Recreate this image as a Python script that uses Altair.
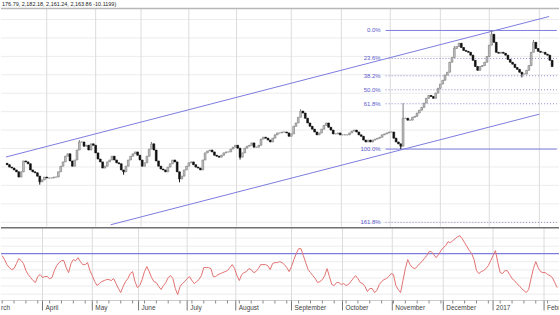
import altair as alt
import pandas as pd

# ---------------- data ----------------
header = "176.79, 2,182.18, 2,161.24, 2,163.86 -10.1199)"

close = [
    1957, 1952, 1950, 1946, 1942, 1931, 1942, 1965, 1963, 1959,
    1946, 1942, 1940, 1933, 1921, 1925, 1931, 1929, 1929, 1929,
    1931, 1931, 1942, 1954, 1963, 1975, 1980, 1965, 1954, 1967,
    1988, 2005, 2005, 1996, 1998, 1988, 2001, 1998, 1982, 1969,
    1963, 1950, 1954, 1963, 1967, 1975, 1967, 1961, 1959, 1946,
    1942, 1954, 1967, 1975, 1980, 1984, 1977, 1967, 1954, 1961,
    1975, 1990, 2001, 1988, 1965, 1954, 1948, 1946, 1942, 1952,
    1959, 1967, 1963, 1942, 1927, 1933, 1946, 1954, 1961, 1963,
    1957, 1952, 1950, 1946, 1967, 1982, 1986, 1988, 1984, 1977,
    1975, 1973, 1977, 1982, 1984, 1984, 1990, 1994, 1998, 1992,
    1973, 1982, 1992, 1996, 1998, 2003, 1994, 1994, 1998, 2011,
    2015, 2013, 2009, 2005, 2013, 2020, 2024, 2024, 2026, 2026,
    2024, 2017, 2022, 2038, 2045, 2057, 2070, 2066, 2055, 2045,
    2038, 2032, 2026, 2020, 2024, 2032, 2040, 2045, 2036, 2030,
    2022, 2022, 2024, 2020, 2020, 2020, 2020, 2024, 2028, 2030,
    2026, 2020, 2017, 2009, 2005, 2009, 2005, 2009, 2011, 2013,
    2015, 2020, 2022, 2024, 2026, 2026, 2013, 2005, 2001, 1996,
    2055, 2055, 2051, 2051, 2057, 2059, 2066, 2072, 2078, 2087,
    2097, 2103, 2101, 2097, 2108, 2118, 2127, 2135, 2146, 2152,
    2173, 2183, 2202, 2206, 2213, 2204, 2198, 2196, 2194, 2188,
    2177, 2164, 2156, 2164, 2166, 2173, 2185, 2209, 2232, 2215,
    2194, 2192, 2194, 2192, 2188, 2179, 2173, 2169, 2162, 2158,
    2152, 2148, 2148, 2156, 2166, 2194, 2215, 2202, 2196, 2194,
    2194, 2190, 2188, 2177, 2163.86,
]
first_open = 1960

# a few visible wicks (bar index -> extreme)
wick_high = {126: 2074, 170: 2087, 192: 2207, 208: 2240, 226: 2220, 31: 2009, 62: 2005}
wick_low = {14: 1915, 50: 1936, 74: 1920, 169: 1990, 221: 2141, 100: 1968}

rsi = [
    68.4, 65.2, 61.2, 58.8, 57.2, 58.0, 62.0, 66.0, 64.4, 62.0,
    56.4, 53.2, 50.8, 48.4, 46.8, 51.6, 53.2, 50.8, 51.6, 51.6,
    50.0, 50.8, 56.4, 60.4, 62.8, 64.4, 64.4, 58.8, 54.8, 62.0,
    65.2, 64.4, 66.8, 63.6, 61.2, 61.2, 62.8, 56.4, 52.4, 47.6,
    44.4, 46.0, 47.6, 48.4, 49.2, 49.2, 48.4, 50.0, 46.0, 42.0,
    38.8, 43.6, 47.6, 50.0, 54.0, 55.6, 47.6, 42.8, 44.4, 49.2,
    55.6, 59.6, 55.6, 50.8, 47.6, 46.8, 43.6, 41.2, 44.4, 46.8,
    50.8, 52.4, 50.0, 42.0, 37.2, 43.6, 46.0, 47.6, 50.0, 51.6,
    48.4, 46.0, 47.6, 49.2, 52.4, 58.8, 58.8, 58.8, 58.0, 51.6,
    51.6, 53.2, 54.0, 54.8, 55.6, 56.4, 58.8, 61.2, 58.0, 52.4,
    48.4, 53.2, 54.8, 55.6, 58.0, 57.2, 54.8, 55.6, 58.0, 61.2,
    61.2, 61.2, 60.4, 57.2, 62.0, 62.8, 62.8, 63.6, 62.8, 61.2,
    58.8, 55.6, 59.6, 65.2, 70.0, 74.0, 74.0, 68.4, 62.8, 57.2,
    54.8, 52.4, 50.0, 46.8, 47.6, 49.2, 52.4, 58.0, 51.6, 45.2,
    44.4, 46.8, 46.8, 45.2, 46.0, 44.4, 45.2, 47.6, 50.0, 52.4,
    50.0, 46.8, 46.0, 43.6, 39.6, 42.0, 42.0, 38.8, 40.4, 45.2,
    47.6, 49.2, 50.0, 51.6, 54.0, 53.2, 44.4, 41.2, 38.8, 48.4,
    58.0, 65.2, 61.2, 58.8, 58.0, 59.6, 62.0, 63.6, 66.0, 68.4,
    71.6, 71.6, 69.2, 66.8, 69.2, 72.4, 74.8, 76.4, 79.6, 78.8,
    80.4, 82.0, 83.6, 84.4, 82.0, 78.8, 75.6, 72.4, 70.0, 65.2,
    56.4, 54.0, 55.6, 56.4, 58.0, 60.4, 64.4, 68.4, 72.4, 62.8,
    54.8, 54.0, 56.4, 56.4, 53.2, 50.0, 48.4, 46.0, 44.4, 42.0,
    40.4, 38.8, 41.2, 50.0, 58.0, 63.6, 58.8, 55.6, 54.8, 54.8,
    53.2, 52.4, 50.8, 46.8, 42.8,
]
rsi_level = 70

month_labels = ["March", "April", "May", "June", "July", "August", "September",
                "October", "November", "December", "2017", "February"]
month_pos = [-5.5, 17, 38, 57.5, 78, 98.5, 122, 143.5, 164.5, 186, 207, 228.5]

fib_pct = [0.0, 23.6, 38.2, 50.0, 61.8, 100.0, 161.8]
fib_text = ["0.0%", "23.6%", "38.2%", "50.0%", "61.8%", "100.0%", "161.8%"]
fib_high = 2240.0
fib_low = 1990.0
fib_from = 162.5
fib_to = 236.0

chan_upper_i = [-0.5, 232.7]
chan_upper_p = [1973.3, 2269.4]
chan_lower_i = [44.45, 228.5]
chan_lower_p = [1830.5, 2063.6]

price_grid = [2263.1, 2224.3, 2185.4, 2146.6, 2107.7, 2068.9, 2030.0,
              1991.2, 1952.3, 1913.5, 1874.6, 1835.8]
rsi_grid = [82.5, 76.0, 63.5, 57.0, 50.5, 44.0, 37.5]
week_ticks = list(range(0, 235, 5))

# ---------------- tables ----------------
n = len(close)
opens = [first_open] + close[:-1]
rows = []
for i in range(n):
    o, c = opens[i], close[i]
    hi = max(o, c, wick_high.get(i, max(o, c)))
    lo = min(o, c, wick_low.get(i, min(o, c)))
    rows.append({"i": i, "open": o, "close": c, "top": max(o, c), "bot": min(o, c),
                 "hi": hi, "lo": lo, "dir": "up" if c >= o else "down", "rsi": rsi[i]})
df = pd.DataFrame(rows)

months = pd.DataFrame({"pos": month_pos, "label": month_labels})
fib = pd.DataFrame({
    "pct": fib_pct, "label": fib_text,
    "price": [fib_high - (fib_high - fib_low) * p / 100 for p in fib_pct],
    "x0": fib_from, "x1": fib_to,
})
fib["solid"] = fib["pct"].isin([0.0, 100.0])
chan = pd.DataFrame({
    "i": chan_upper_i + chan_lower_i,
    "p": chan_upper_p + chan_lower_p,
    "line": ["upper", "upper", "lower", "lower"],
})
pgrid = pd.DataFrame({"p": price_grid})
rgrid = pd.DataFrame({"r": rsi_grid})
rlev = pd.DataFrame({"r": [rsi_level]})
weeks = pd.DataFrame({"w": week_ticks})

# ---------------- scales ----------------
W = 560
TOP_H = 227
BOT_PLOT = 73
BOT_H = 88
xs = alt.Scale(domain=[-0.504, 234.8], nice=False, zero=False)
ys = alt.Scale(domain=[1826.3, 2303.0], nice=False, zero=False)
rs = alt.Scale(domain=[20.4, 90.8], nice=False, zero=False)
FONT = "Liberation Sans"
BLUE = "#7c7ce0"

X = lambda f: alt.X(f, type="quantitative", scale=xs, axis=None)
Yp = lambda f: alt.Y(f, type="quantitative", scale=ys, axis=None)
Yr = lambda f: alt.Y(f, type="quantitative", scale=rs, axis=None)

# ---------------- top panel ----------------
hgrid = alt.Chart(pgrid).mark_rule(color="#ececec", strokeWidth=1, clip=True).encode(
    y=Yp("p"), x=alt.value(0), x2=alt.value(W))
vgrid_top = alt.Chart(months).mark_rule(color="#dcdcdc", strokeWidth=1, clip=True).encode(
    x=X("pos"), y=alt.value(8), y2=alt.value(TOP_H))
channel = alt.Chart(chan).mark_line(color=BLUE, strokeWidth=1, clip=True).encode(
    x=X("i"), y=Yp("p"), detail="line:N")
fib_solid = alt.Chart(fib).transform_filter("datum.solid").mark_rule(
    color=BLUE, strokeWidth=1, clip=True).encode(x=X("x0"), x2="x1", y=Yp("price"))
fib_dot = alt.Chart(fib).transform_filter("!datum.solid").mark_rule(
    color="#8a8ad0", strokeWidth=1, strokeDash=[1, 2], clip=True).encode(
    x=X("x0"), x2="x1", y=Yp("price"))
fib_lab = alt.Chart(fib).mark_text(
    align="right", baseline="middle", dx=-5, fontSize=6, font=FONT, color="#5a5acc").encode(
    x=X("x0"), y=Yp("price"), text="label:N")
fill_scale = alt.Scale(domain=["up", "down"], range=["#c4c4c4", "#111111"])
line_scale = alt.Scale(domain=["up", "down"], range=["#7a7a7a", "#111111"])
wicks = alt.Chart(df).mark_rule(strokeWidth=1, clip=True).encode(
    x=X("i"), y=Yp("lo"), y2="hi", color=alt.Color("dir:N", scale=line_scale, legend=None))
bodies = alt.Chart(df).mark_bar(size=1.8, strokeWidth=0.6, clip=True).encode(
    x=X("i"), y=Yp("bot"), y2="top",
    fill=alt.Fill("dir:N", scale=fill_scale, legend=None),
    stroke=alt.Stroke("dir:N", scale=line_scale, legend=None))
head_line = alt.Chart(rlev).mark_rule(color="#b8b8b8", strokeWidth=1.5).encode(
    x=alt.value(0), x2=alt.value(W), y=alt.value(8))
head_text = alt.Chart(pd.DataFrame({"t": [header]})).mark_text(
    align="left", baseline="middle", fontSize=5.5, font=FONT, color="#222222").encode(
    x=alt.value(1), y=alt.value(3.5), text="t:N")

top = alt.layer(hgrid, vgrid_top, channel, fib_solid, fib_dot, fib_lab, wicks, bodies,
                head_line, head_text).properties(width=W, height=TOP_H)

# ---------------- bottom panel ----------------
rg = alt.Chart(rgrid).mark_rule(color="#ececec", strokeWidth=1).encode(
    y=Yr("r"), x=alt.value(0), x2=alt.value(W))
vgrid_bot = alt.Chart(months).mark_rule(color="#dcdcdc", strokeWidth=1, clip=True).encode(
    x=X("pos"), y=alt.value(0), y2=alt.value(BOT_PLOT))
axis_line = alt.Chart(rlev).mark_rule(color="#cccccc", strokeWidth=1).encode(
    y=alt.value(BOT_PLOT), x=alt.value(0), x2=alt.value(W))
week_tick = alt.Chart(weeks).mark_rule(color="#888888", strokeWidth=1, clip=True).encode(
    x=X("w"), y=alt.value(BOT_PLOT), y2=alt.value(BOT_PLOT + 3))
month_tick = alt.Chart(months).mark_rule(color="#777777", strokeWidth=1, clip=True).encode(
    x=X("pos"), y=alt.value(BOT_PLOT), y2=alt.value(BOT_PLOT + 10))
lev = alt.Chart(rlev).mark_rule(color=BLUE, strokeWidth=1.1).encode(
    y=Yr("r"), x=alt.value(0), x2=alt.value(W))
border = alt.Chart(rlev).mark_rule(color="#707070", strokeWidth=1.5).encode(
    y=alt.value(0), x=alt.value(0), x2=alt.value(W))
rsi_line = alt.Chart(df).mark_line(color="#e27070", strokeWidth=1, clip=True).encode(
    x=X("i"), y=Yr("rsi"))
mlab = alt.Chart(months).mark_text(
    align="left", baseline="middle", dx=3, fontSize=6.5, font=FONT, color="#444444",
    clip=True).encode(x=X("pos"), y=alt.value(BOT_PLOT + 8), text="label:N")

bottom = alt.layer(rg, vgrid_bot, lev, rsi_line, border, axis_line, week_tick, month_tick,
                   mlab).properties(width=W, height=BOT_H)

chart = alt.vconcat(top, bottom, spacing=0).properties(
    padding=0, background="white"
).configure_view(stroke=None)

chart.save("out.html", embed_options={"renderer": "svg", "actions": False})
